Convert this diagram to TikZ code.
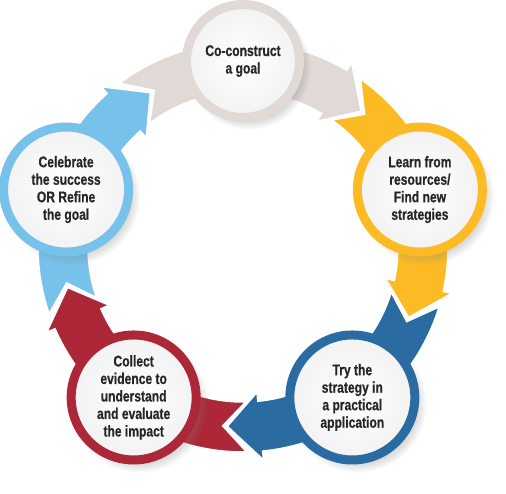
\documentclass[tikz,border=0pt]{standalone}
\usepackage{fontspec}
\setmainfont[FakeStretch=0.78, BoldFeatures={FakeBold=0.5}]{Liberation Sans}
\usetikzlibrary{calc, shadows}
\definecolor{goalgrey}{RGB}{224,217,213}
\definecolor{learnyellow}{RGB}{252,187,36}
\definecolor{tryblue}{RGB}{42,108,162}
\definecolor{collectred}{RGB}{172,40,56}
\definecolor{celebrateblue}{RGB}{118,194,234}
\definecolor{textgrey}{RGB}{38,38,38}
\tikzset{
  stage/.style={
    circle, draw=#1, line width=9pt, minimum size=125pt, inner sep=0pt,
    inner color=white, outer color=black!5, align=center,
    font=\fontsize{15.5}{17.5}\selectfont\bfseries, text=textgrey,
    circular drop shadow={shadow xshift=5pt, shadow yshift=-6pt, opacity=0.3}
  },
  band/.style={fill=#1, draw=white, line width=1.5pt, line join=miter},
}

\begin{document}
\begin{tikzpicture}[x=1pt, y=1pt]
  \useasboundingbox (0,0) rectangle (506,493);
  \coordinate (ctr) at (243,246);
  % ring of arrows, clockwise
  \foreach \a/\col in {90/goalgrey, 18/learnyellow, -54/tryblue, -126/collectred, -198/celebrateblue}{
    \filldraw[band=\col]
      ($(ctr)+(\a+37:205)$) arc[start angle=\a+37, end angle=\a-30.5, radius=205]
      -- ($(ctr)+(\a-30.5:214)$) -- ($(ctr)+(\a-41:180)$) -- ($(ctr)+(\a-30.5:146)$)
      -- ($(ctr)+(\a-30.5:155)$) arc[start angle=\a-30.5, end angle=\a+37, radius=155]
      -- ($(ctr)+(\a+29.5:180)$) -- cycle;
  }
  \node[stage=goalgrey, minimum size=113pt] (goal) at ($(ctr)+(90:186)$) {Co-construct\\a goal};
  \node[stage=learnyellow] (learn) at ($(ctr)+(18:186)$) {Learn from\\resources/\\Find new\\strategies};
  \node[stage=tryblue] (try) at ($(ctr)+(-54:186)$) {Try the\\strategy in\\a practical\\application};
  \node[stage=collectred] (collect) at ($(ctr)+(-126:186)$) {Collect\\evidence to\\understand\\and evaluate\\the impact};
  \node[stage=celebrateblue] (celebrate) at ($(ctr)+(162:186)$) {Celebrate\\the success\\OR Refine\\the goal};
\end{tikzpicture}
\end{document}
